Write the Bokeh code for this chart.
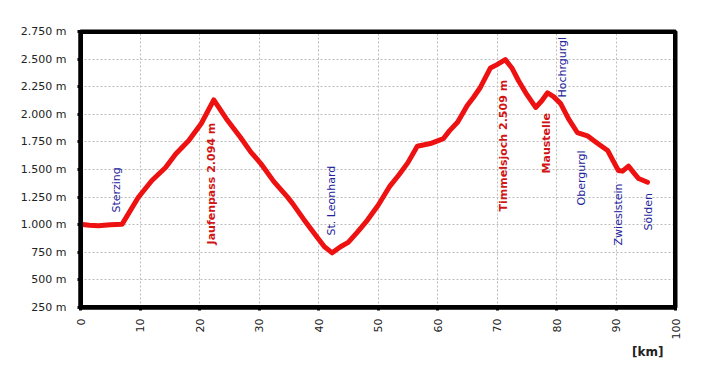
from math import pi
from bokeh.plotting import figure
from bokeh.models import Range1d, FixedTicker, Title, BoxAnnotation, LinearAxis
from bokeh.core.properties import value
from bokeh.embed import file_html
from bokeh.resources import INLINE

# Elevation profile (km, m)
km = [0, 1.5, 3, 5, 7, 9.7, 12, 14.3, 16, 18.2, 20.3, 22.4, 24.5, 26.9, 28.6,
      30.3, 32.5, 34.8, 35.8, 37.5, 39.8, 41, 42.3, 43.7, 45, 46.5, 48.2, 50,
      52, 53.5, 55, 56.6, 58.8, 61, 62, 63.4, 65, 66, 67.2, 68.9, 70, 71.4,
      72.5, 73.6, 75, 76.5, 77.5, 78.5, 79.5, 80.7, 82, 83.5, 85.2, 86.3,
      87.4, 88.6, 89.5, 90.4, 91.1, 92.1, 93, 93.8, 95.3]
elev = [1005, 995, 990, 1000, 1005, 1246, 1400, 1518, 1640, 1763, 1917, 2130,
        1960, 1790, 1660, 1554, 1390, 1250, 1180, 1050, 884, 800, 745, 800,
        840, 930, 1040, 1174, 1350, 1450, 1560, 1710, 1735, 1780, 1850, 1930,
        2080, 2150, 2243, 2420, 2450, 2495, 2420, 2306, 2180, 2062, 2120,
        2195, 2160, 2097, 1960, 1835, 1805, 1760, 1717, 1672, 1580, 1491,
        1485, 1530, 1470, 1418, 1385]

y_ticks = [250, 500, 750, 1000, 1250, 1500, 1750, 2000, 2250, 2500, 2750]
y_tick_labels = ["250 m", "500 m", "750 m", "1.000 m", "1.250 m", "1.500 m",
                 "1.750 m", "2.000 m", "2.250 m", "2.500 m", "2.750 m"]
x_ticks = [0, 10, 20, 30, 40, 50, 60, 70, 80, 90, 100]

# Place labels (name, km, elevation at text start)
pass_names = ["Jaufenpass 2.094 m", "Timmelsjoch 2.509 m", "Maustelle"]
pass_km = [22.0, 71.1, 78.3]
pass_elev = [821, 1120, 1464]

town_names = ["Sterzing", "St. Leonhard", "Hochrgurgl", "Obergurgl",
              "Zwieslstein", "Sölden"]
town_km = [6.05, 42.2, 81.0, 84.2, 90.4, 95.5]
town_elev = [1110, 902, 2152, 1174, 812, 947]

FONT = "DejaVu Sans"
X0, X1 = 0, 100
Y0, Y1 = 250, 2750

p = figure(width=705, height=372, output_backend="svg", toolbar_location=None,
           x_range=Range1d(X0, X1), y_range=Range1d(Y0, Y1),
           min_border_left=80, min_border_right=30, min_border_top=31,
           min_border_bottom=65)
p.border_fill_color = "white"
p.background_fill_color = None
p.outline_line_color = "black"
p.outline_line_width = 4

p.axis.axis_line_color = "black"
p.axis.axis_line_width = 4
p.axis.major_tick_line_color = "black"
p.axis.major_tick_line_width = 3
p.axis.major_tick_out = 3
p.axis.major_tick_in = 0
p.axis.minor_tick_line_color = None
p.axis.major_label_text_font = FONT
p.axis.major_label_text_font_size = "11px"
p.axis.major_label_text_color = "#222222"

p.yaxis[0].ticker = FixedTicker(ticks=y_ticks)
p.yaxis[0].major_label_overrides = {t: l for t, l in zip(y_ticks, y_tick_labels)}
p.yaxis[0].major_label_standoff = 11
p.xaxis[0].ticker = FixedTicker(ticks=x_ticks)
p.xaxis[0].major_label_orientation = pi / 2
p.xaxis[0].major_label_standoff = 8

# extra rule-only axis pinned at the left edge of the plot area
rule = LinearAxis(fixed_location=X0, ticker=FixedTicker(ticks=[]),
                  axis_line_color="black", axis_line_width=4,
                  major_tick_out=0, major_tick_in=0,
                  minor_tick_out=0, minor_tick_in=0,
                  minor_tick_line_color=None, major_tick_line_color=None,
                  major_label_standoff=0)
p.add_layout(rule, "left")

p.grid.grid_line_color = "#bdbdbd"
p.grid.grid_line_dash = "2 2"
p.grid.grid_line_width = 1

# plot-area frame (same extent as the ranges)
p.add_layout(BoxAnnotation(left=X0, right=X1, bottom=Y0, top=Y1,
                           fill_alpha=0, line_color="black", line_alpha=1,
                           line_width=5))

p.line(km, elev, line_color="#ee1111", line_width=5, line_join="round",
       line_cap="round")

p.text(x=pass_km, y=pass_elev, text=pass_names, angle=pi / 2,
       text_align="left", text_baseline="middle", text_font=value(FONT),
       text_font_size="11px", text_font_style="bold", text_color="#d01515")
p.text(x=town_km, y=town_elev, text=town_names, angle=pi / 2,
       text_align="left", text_baseline="middle", text_font=value(FONT),
       text_font_size="11px", text_color="#22229a")

p.add_layout(Title(text="[km]", align="right", offset=12, text_font=FONT,
                   text_font_size="12px", text_font_style="bold",
                   text_color="#222222", standoff=0), "below")

open("out.html", "w").write(file_html(p, INLINE))
